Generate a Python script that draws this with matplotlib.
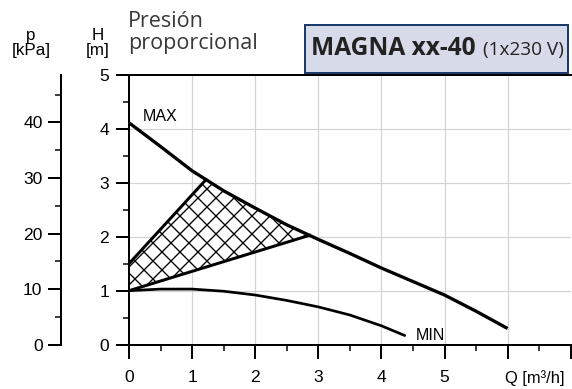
import numpy as np
import matplotlib
matplotlib.use("Agg")
import matplotlib.pyplot as plt
import matplotlib.patches as patches
from matplotlib.ticker import MultipleLocator

# flow Q [m3/h] and head H [m]
q_max = [0, 0.5, 1, 1.5, 2, 2.5, 3, 3.5, 4, 4.5, 5, 5.5, 6]
h_max = [4.11, 3.67, 3.22, 2.85, 2.53, 2.22, 1.95, 1.69, 1.42, 1.17, 0.92, 0.62, 0.30]

q_min = [0, 0.5, 1, 1.5, 2, 2.5, 3, 3.5, 4, 4.37]
h_min = [1.0, 1.03, 1.03, 0.99, 0.92, 0.82, 0.70, 0.55, 0.35, 0.17]

# proportional pressure area: two control lines ending on the MAX curve
prop_start = [1.5, 1.0]   # H at Q=0 for upper / lower line
prop_end_q = [1.22, 2.86]  # Q where each line meets MAX

x_ticks = [0, 1, 2, 3, 4, 5]
h_ticks = [0, 1, 2, 3, 4, 5]
p_ticks = [0, 10, 20, 30, 40]

DPI = 108
W, H = 572, 389
px = 72 / DPI  # pixels -> points

plt.rcParams['hatch.linewidth'] = 0.9
tick_font = 'Liberation Sans'
tick_size = 17.5 * px

fig = plt.figure(figsize=(W / DPI, H / DPI), dpi=DPI)

# axes box in pixels
ax_left, ax_right = 129, 570.7
ax_top, ax_bottom = 74.7, 344.7
ax = fig.add_axes([ax_left / W, (H - ax_bottom) / H,
                   (ax_right - ax_left) / W, (ax_bottom - ax_top) / H])

ax.set_xlim(0, 7)
ax.set_ylim(0, 5)

# grid
for q in range(1, 7):
    ax.axvline(q, color='#d3d3d3', lw=1.2 * px, zorder=0)
for h in range(1, 5):
    ax.axhline(h, color='#d3d3d3', lw=1.2 * px, zorder=0)

# hatched area
top_h = np.interp(prop_end_q[0], q_max, h_max)
low_h = np.interp(prop_end_q[1], q_max, h_max)
poly = [(0, prop_start[0]), (prop_end_q[0], top_h)]
poly += [(q, h) for q, h in zip(q_max, h_max) if prop_end_q[0] < q < prop_end_q[1]]
poly += [(prop_end_q[1], low_h), (0, prop_start[1])]
ax.add_patch(patches.Polygon(poly, closed=True, facecolor='white',
                             edgecolor='black', hatch='xx', lw=0, zorder=1))

ax.plot([0, prop_end_q[0]], [prop_start[0], top_h], color='black', lw=3 * px, zorder=3)
ax.plot([0, prop_end_q[1]], [prop_start[1], low_h], color='black', lw=3 * px, zorder=3)

# curves
ax.plot(q_max, h_max, color='black', lw=3.3 * px, zorder=3, solid_capstyle='butt')
ax.plot(q_min, h_min, color='black', lw=2.7 * px, zorder=3, solid_capstyle='round')

ax.text(0.22, 4.14, 'MAX', fontsize=16 * px, family=tick_font, va='baseline')
ax.text(4.55, 0.09, 'MIN', fontsize=16 * px, family=tick_font, va='baseline')

# spines and ticks
for s in ['left', 'bottom', 'top']:
    ax.spines[s].set_linewidth(2 * px)
ax.spines['right'].set_visible(False)
ax.set_xticks(range(0, 8))
ax.set_xticklabels([str(t) for t in x_ticks] + ['', ''])
ax.set_yticks(h_ticks)
ax.xaxis.set_minor_locator(MultipleLocator(0.5))
ax.yaxis.set_minor_locator(MultipleLocator(0.5))
ax.tick_params(axis='x', which='major', length=14 * px, width=2 * px, pad=11 * px,
               labelsize=tick_size)
ax.tick_params(axis='y', which='major', length=13 * px, width=2 * px, pad=7 * px,
               labelsize=tick_size)
ax.tick_params(which='minor', length=6 * px, width=1.5 * px)
for lab in ax.get_xticklabels() + ax.get_yticklabels():
    lab.set_family(tick_font)

ax.annotate('Q [m³/h]', xy=(6, 0), xycoords=('data', 'axes fraction'),
            xytext=(-3 * px, -33 * px), textcoords='offset points',
            ha='left', va='center', fontsize=16.5 * px, family=tick_font)

# pressure axis
pax = fig.add_axes([61 / W, (H - ax_bottom) / H, 0.01, (ax_bottom - ax_top) / H])
pax.set_ylim(0, 48.6)
pax.patch.set_visible(False)
for s in ['right', 'bottom', 'top']:
    pax.spines[s].set_visible(False)
pax.spines['left'].set_linewidth(2 * px)
pax.set_xticks([])
pax.set_yticks(p_ticks)
pax.yaxis.set_minor_locator(MultipleLocator(5))
pax.tick_params(axis='y', which='major', length=13.5 * px, width=2 * px, pad=5 * px,
                labelsize=tick_size)
pax.tick_params(axis='y', which='minor', length=6 * px, width=1.5 * px)
for lab in pax.get_yticklabels():
    lab.set_family(tick_font)

# axis titles
fig.text(31 / W, 1 - 43 / H, 'p\n[kPa]', ha='center', va='center',
         fontsize=17 * px, family=tick_font, linespacing=1.05)
fig.text(97.5 / W, 1 - 43 / H, 'H\n[m]', ha='center', va='center',
         fontsize=17 * px, family=tick_font, linespacing=1.05)

fig.text(128 / W, 1 - 27 / H, 'Presión', ha='left', va='baseline',
         fontsize=21.5 * px, family='Open Sans', color='#383838')
fig.text(128 / W, 1 - 49 / H, 'proporcional', ha='left', va='baseline',
         fontsize=21.5 * px, family='Open Sans', color='#383838')

# title box
box = patches.Rectangle((305 / W, 1 - 72.7 / H), (568.3 - 305) / W, (72.7 - 25) / H,
                        transform=fig.transFigure, facecolor='#d7dae9',
                        edgecolor='#1c3b6b', lw=2 * px)
fig.patches.append(box)
fig.text(310.7 / W, 1 - 55 / H, 'MAGNA xx-40', ha='left', va='baseline',
         fontsize=24.5 * px, family='Open Sans', weight='bold', color='#222222')
fig.text(483 / W, 1 - 55 / H, '(1x230 V)', ha='left', va='baseline',
         fontsize=19 * px, family='Open Sans', color='#222222')

fig.savefig('out.png', dpi=DPI)
